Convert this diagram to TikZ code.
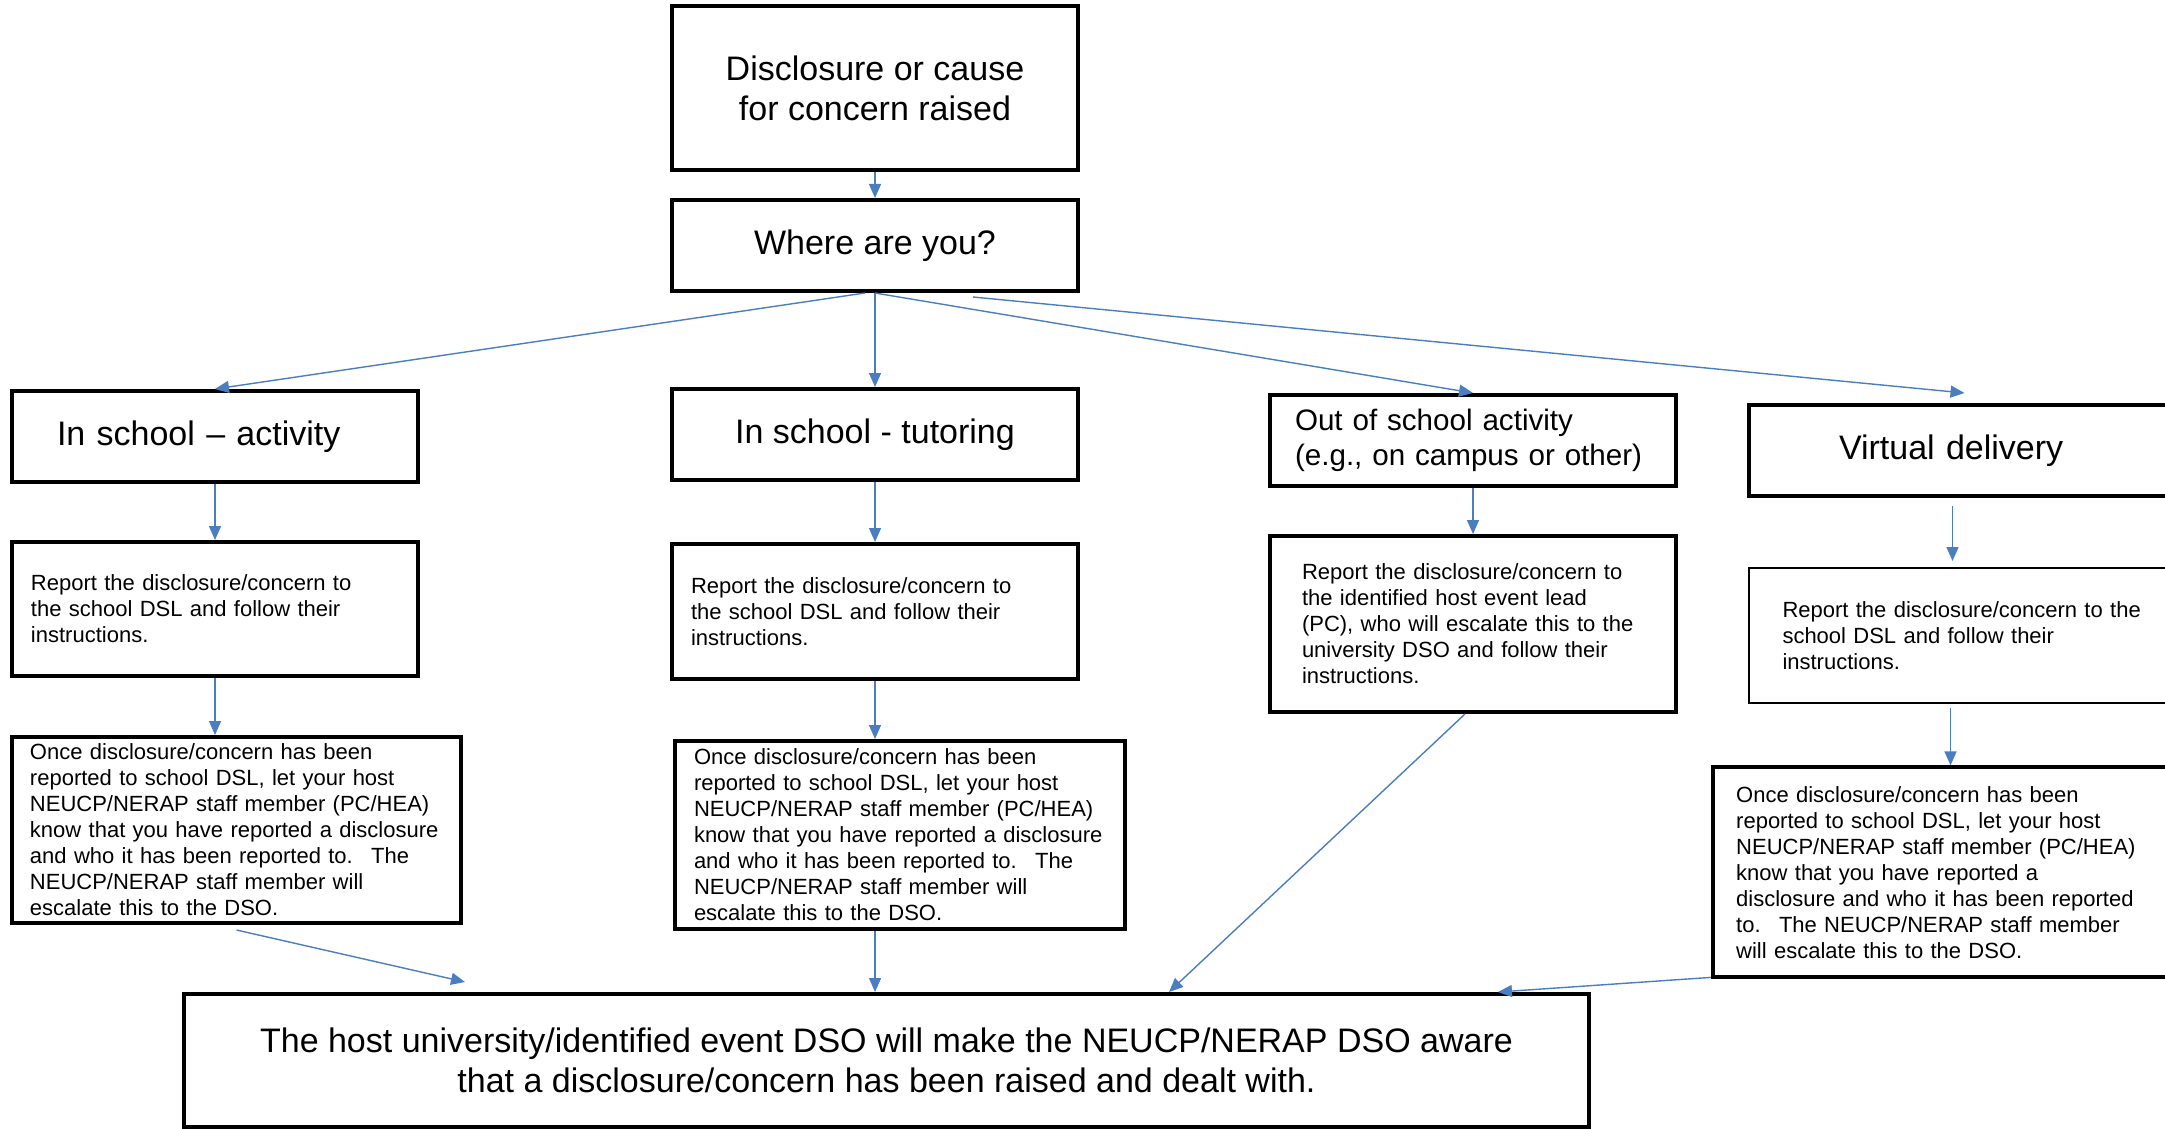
\documentclass[tikz,border=0pt]{standalone}
\usepackage{fontspec}
\setmainfont{Liberation Sans}
\usepackage{tikz}
\usetikzlibrary{arrows.meta, positioning}

\definecolor{flowblue}{RGB}{74,126,193}

\begin{document}
\begin{tikzpicture}[
    box/.style={rectangle, draw, line width=2pt, inner sep=0pt},
    head/.style={box, minimum width=203pt, minimum height=45.5pt, align=center, font=\fontsize{17}{20}\selectfont},
    note/.style={box, inner xsep=9.5pt, align=left, font=\fontsize{11}{13}\selectfont},
    arrow/.style={draw=flowblue, line width=0.7pt, -{Triangle[length=7pt,width=6pt]}}
]
\useasboundingbox (0pt,0pt) rectangle (1082.5pt,-564.5pt);

% Question
\node[head, minimum height=82pt] (raised) at (437.5pt,-44pt) {Disclosure or cause\\for concern raised};
\node[head, below=13pt of raised] (where) {Where are you?};

% Settings
\node[head, align=left, text width=158pt, inner xsep=22.5pt] (activity) at (107.5pt,-218.25pt) {In school – activity};
\node[head] (tutoring) at (437.5pt,-217.25pt) {In school - tutoring};
\node[head, align=left, text width=178pt, inner xsep=12.5pt, font=\fontsize{14.8}{17.3}\selectfont] (outside) at (736.5pt,-220.25pt) {Out of school activity\\(e.g., on campus or other)};
\node[head, minimum width=215.5pt, align=left, text width=125.5pt, inner xsep=45pt] (virtual) at (982.25pt,-225.25pt) {Virtual delivery};

% Reporting
\node[note, text width=184pt, minimum height=67pt, below=28pt of activity] (reportA) {Report the disclosure/concern to\\the school DSL and follow their\\instructions.};
\node[note, text width=184pt, minimum height=67.5pt, below=30pt of tutoring] (reportB) {Report the disclosure/concern to\\the school DSL and follow their\\instructions.};
\node[note, text width=171pt, inner xsep=16pt, minimum height=88pt, below=23pt of outside] (reportC) {Report the disclosure/concern to\\the identified host event lead\\(PC), who will escalate this to the\\university DSO and follow their\\instructions.};
\node[note, line width=1.2pt, text width=182pt, minimum width=215.5pt, minimum height=67.5pt, below=34.5pt of virtual] (reportD) {Report the disclosure/concern to the\\school DSL and follow their\\instructions.};

% Letting the host know
\node[note, text width=206.5pt, inner xsep=9pt, minimum height=93pt, below=28.5pt of reportA.south west, anchor=north west] (onceA) {Once disclosure/concern has been\\reported to school DSL, let your host\\NEUCP/NERAP staff member (PC/HEA)\\know that you have reported a disclosure\\and who it has been reported to.~ The\\NEUCP/NERAP staff member will\\escalate this to the DSO.};
\node[note, text width=206pt, minimum height=94pt, below=29pt of reportB.south west, anchor=north west, xshift=1.5pt] (onceB) {Once disclosure/concern has been\\reported to school DSL, let your host\\NEUCP/NERAP staff member (PC/HEA)\\know that you have reported a disclosure\\and who it has been reported to.~ The\\NEUCP/NERAP staff member will\\escalate this to the DSO.};
\node[note, text width=210.6pt, inner xsep=11.7pt, minimum height=105pt, below=30.5pt of reportD.south west, anchor=north west, xshift=-18.5pt] (onceD) {Once disclosure/concern has been\\reported to school DSL, let your host\\NEUCP/NERAP staff member (PC/HEA)\\know that you have reported a\\disclosure and who it has been reported\\to.~ The NEUCP/NERAP staff member\\will escalate this to the DSO.};

% Outcome
\node[box, minimum width=702.5pt, minimum height=66.5pt, align=center, font=\fontsize{17}{20}\selectfont] (aware) at (443.25pt,-530.25pt) {The host university/identified event DSO will make the NEUCP/NERAP DSO aware\\that a disclosure/concern has been raised and dealt with.};

% Arrows
\coordinate (vstart) at ([xshift=-6pt]virtual.south);
\coordinate (dstart) at ([xshift=-7pt]reportD.south);
\draw[arrow] (raised) -- (where);
\draw[arrow] ([xshift=-5pt]where.south) -- (activity.north);
\draw[arrow] (where) -- (tutoring);
\draw[arrow] (where.south) -- (outside.north);
\draw[arrow] ([xshift=49pt,yshift=-2pt]where.south) -- ([yshift=5pt]virtual.north);
\draw[arrow] (activity) -- (reportA);
\draw[arrow] (reportA.south) -- (reportA.south |- onceA.north);
\draw[arrow] (tutoring) -- (reportB);
\draw[arrow] (reportB.south) -- (reportB.south |- onceB.north);
\draw[arrow] (outside) -- (outside.south |- reportC.north);
\draw[arrow, shorten <=4pt, shorten >=3pt] (vstart) -- (vstart |- reportD.north);
\draw[arrow, shorten <=2pt] (dstart) -- (dstart |- onceD.north);
\draw[arrow] ([yshift=-2.5pt]onceA.south) -- ([xshift=141.5pt,yshift=5pt]aware.north west);
\draw[arrow] (reportB.south |- onceB.south) -- (reportB.south |- aware.north);
\draw[arrow] ([xshift=-4pt]reportC.south) -- ([xshift=493.5pt]aware.north west);
\draw[arrow] ([yshift=1pt]onceD.south west) -- ([xshift=658pt]aware.north west);

\end{tikzpicture}
\end{document}
